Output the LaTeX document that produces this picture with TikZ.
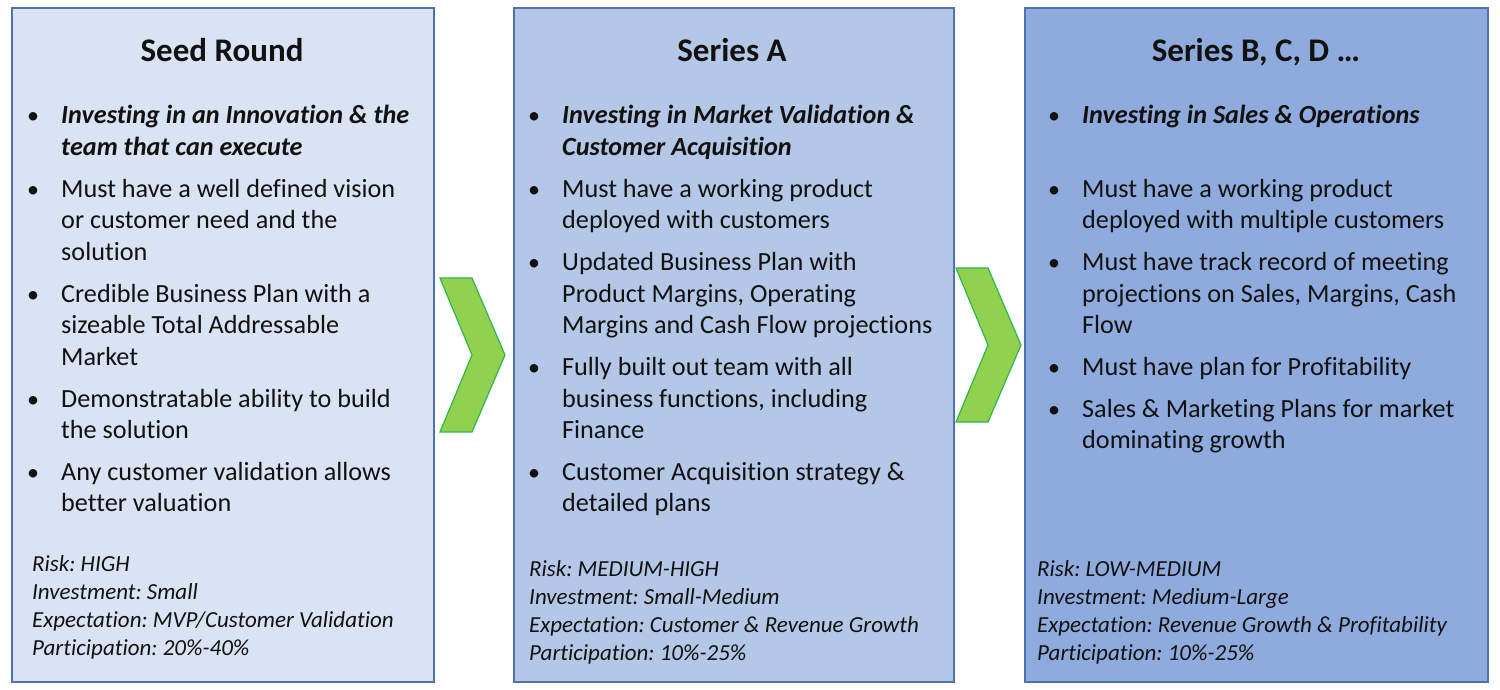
\documentclass[tikz,border=0pt]{standalone}
\usepackage{fontspec}
\setmainfont{Carlito}[Ligatures={NoCommon}]
\frenchspacing
\definecolor{fillA}{HTML}{DAE3F3}
\definecolor{fillB}{HTML}{B4C7E7}
\definecolor{fillC}{HTML}{8FAADC}
\definecolor{edge}{HTML}{4F71AC}
\definecolor{chevfill}{HTML}{92D050}
\definecolor{chevedge}{HTML}{2DB84C}
\definecolor{ink}{HTML}{111111}
\begin{document}
\begin{tikzpicture}[x=1pt,y=-1pt,
  panel/.style={draw=edge, line width=1.6pt, anchor=north west, inner sep=0, outer sep=0},
  ttl/.style={anchor=base, inner sep=0, text=ink, font=\fontsize{33}{38}\selectfont\bfseries},
  bodyt/.style={anchor=base west, inner sep=0, text=ink, font=\fontsize{26.2}{30}\selectfont},
  lead/.style={anchor=base west, inner sep=0, text=ink, font=\fontsize{26.2}{30}\selectfont\bfseries\itshape},
  bul/.style={anchor=base, inner sep=0, text=ink, font=\fontsize{24}{29}\selectfont},
  foot/.style={anchor=base west, inner sep=0, text=ink, font=\fontsize{23}{27}\selectfont\itshape},
  chev/.style={fill=chevfill, draw=chevedge, line width=1.2pt, line join=miter}]
\useasboundingbox (0,0) rectangle (1500,690);
\fill[white] (0,0) rectangle (1500,690);

% panels
\node[panel, fill=fillA, minimum width=422pt, minimum height=674pt] (p1) at (12,8) {};
\node[panel, fill=fillB, minimum width=440pt, minimum height=674pt] (p2) at (514,8) {};
\node[panel, fill=fillC, minimum width=463pt, minimum height=674pt] (p3) at (1025,8) {};

% chevrons
\draw[chev] (440,278) -- (472,278) -- (505,355) -- (472,432) -- (440,432) -- (472,355) -- cycle;
\draw[chev] (956,268) -- (988,268) -- (1021,345) -- (988,422) -- (956,422) -- (988,345) -- cycle;

% titles
\node[ttl] (t1) at (222,62) {Seed Round};
\node[ttl] (t2) at (732,62) {Series A};
\node[ttl] (t3) at (1256,62) {Series B, C, D …};

% ---- panel 1 bullets
\node[bul] (b1a) at (33,124) {•};
\node[lead] (l1a1) at (61,124) {Investing in an Innovation \& the};
\node[lead] (l1a2) at (61,156) {team that can execute};
\node[bul] (b1b) at (33,197) {•};
\node[bodyt] (l1b1) at (61,197) {Must have a well defined vision};
\node[bodyt] (l1b2) at (61,228) {or customer need and the};
\node[bodyt] (l1b3) at (61,260) {solution};
\node[bul] (b1c) at (33,302) {•};
\node[bodyt] (l1c1) at (61,302) {Credible Business Plan with a};
\node[bodyt] (l1c2) at (61,333) {sizeable Total Addressable};
\node[bodyt] (l1c3) at (61,365) {Market};
\node[bul] (b1d) at (33,407) {•};
\node[bodyt] (l1d1) at (61,407) {Demonstratable ability to build};
\node[bodyt] (l1d2) at (61,438) {the solution};
\node[bul] (b1e) at (33,480) {•};
\node[bodyt] (l1e1) at (61,480) {Any customer validation allows};
\node[bodyt] (l1e2) at (61,511) {better valuation};

\node[foot] (f1a) at (32,571) {Risk: HIGH};
\node[foot] (f1b) at (32,599) {Investment: Small};
\node[foot] (f1c) at (32,627) {Expectation: MVP/Customer Validation};
\node[foot] (f1d) at (32,655) {Participation: 20\%-40\%};

% ---- panel 2 bullets
\node[bul] (b2a) at (534,124) {•};
\node[lead] (l2a1) at (562,124) {Investing in Market Validation \&};
\node[lead] (l2a2) at (562,156) {Customer Acquisition};
\node[bul] (b2b) at (534,197) {•};
\node[bodyt] (l2b1) at (562,197) {Must have a working product};
\node[bodyt] (l2b2) at (562,228) {deployed with customers};
\node[bul] (b2c) at (534,270) {•};
\node[bodyt] (l2c1) at (562,270) {Updated Business Plan with};
\node[bodyt] (l2c2) at (562,302) {Product Margins, Operating};
\node[bodyt] (l2c3) at (562,333) {Margins and Cash Flow projections};
\node[bul] (b2d) at (534,375) {•};
\node[bodyt] (l2d1) at (562,375) {Fully built out team with all};
\node[bodyt] (l2d2) at (562,407) {business functions, including};
\node[bodyt] (l2d3) at (562,438) {Finance};
\node[bul] (b2e) at (534,480) {•};
\node[bodyt] (l2e1) at (562,480) {Customer Acquisition strategy \&};
\node[bodyt] (l2e2) at (562,511) {detailed plans};

\node[foot] (f2a) at (529,576) {Risk: MEDIUM-HIGH};
\node[foot] (f2b) at (529,604) {Investment: Small-Medium};
\node[foot] (f2c) at (529,632) {Expectation: Customer \& Revenue Growth};
\node[foot] (f2d) at (529,660) {Participation: 10\%-25\%};

% ---- panel 3 bullets
\node[bul] (b3a) at (1054,124) {•};
\node[lead] (l3a1) at (1082,124) {Investing in Sales \& Operations};
\node[bul] (b3b) at (1054,197) {•};
\node[bodyt] (l3b1) at (1082,197) {Must have a working product};
\node[bodyt] (l3b2) at (1082,228) {deployed with multiple customers};
\node[bul] (b3c) at (1054,270) {•};
\node[bodyt] (l3c1) at (1082,270) {Must have track record of meeting};
\node[bodyt] (l3c2) at (1082,302) {projections on Sales, Margins, Cash};
\node[bodyt] (l3c3) at (1082,333) {Flow};
\node[bul] (b3d) at (1054,375) {•};
\node[bodyt] (l3d1) at (1082,375) {Must have plan for Profitability};
\node[bul] (b3e) at (1054,417) {•};
\node[bodyt] (l3e1) at (1082,417) {Sales \& Marketing Plans for market};
\node[bodyt] (l3e2) at (1082,448) {dominating growth};

\node[foot] (f3a) at (1037,576) {Risk: LOW-MEDIUM};
\node[foot] (f3b) at (1037,604) {Investment: Medium-Large};
\node[foot] (f3c) at (1037,632) {Expectation: Revenue Growth \& Profitability};
\node[foot] (f3d) at (1037,660) {Participation: 10\%-25\%};
\end{tikzpicture}
\end{document}
